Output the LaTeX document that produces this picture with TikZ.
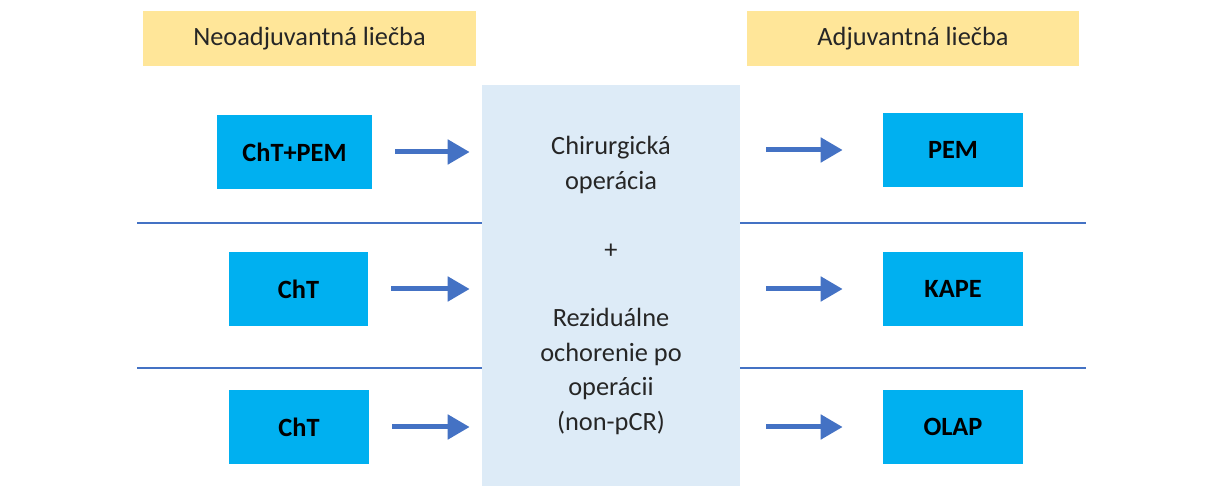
\documentclass[tikz,border=0pt]{standalone}
\usepackage{fontspec}
\setmainfont{Carlito}
\usetikzlibrary{arrows.meta, positioning, calc}
\definecolor{hdryellow}{RGB}{255, 230, 153}
\definecolor{boxcyan}{RGB}{0, 176, 240}
\definecolor{surgblue}{RGB}{221, 235, 247}
\definecolor{arrblue}{RGB}{68, 114, 196}

\begin{document}
\begin{tikzpicture}[x=0.02cm, y=-0.02cm, font=\fontsize{15}{19.6}\selectfont,
    hdr/.style={fill=hdryellow, minimum width=6.66cm, minimum height=1.1cm, text=black!85},
    tbox/.style={fill=boxcyan, minimum height=1.48cm, font=\fontsize{15}{19.6}\selectfont\bfseries},
    arr/.style={-{Triangle[length=0.44cm, width=0.48cm]}, line width=0.1cm, arrblue},
    sep/.style={arrblue, line width=0.6pt}]
      \useasboundingbox (0,0) rectangle (1215,486);
      % headers
      \node[hdr] (neo) at (309.5,38.5) {Neoadjuvantná liečba};
      \node[hdr] (adj) at (913,38.5) {Adjuvantná liečba};
      % row separators
      \foreach \y in {223,368} {
        \draw[sep] (137,\y) -- (482,\y);
        \draw[sep] (740,\y) -- (1086,\y);
      }
      % surgery column
      \node[fill=surgblue, minimum width=5.16cm, minimum height=8.02cm, align=center, text=black!85] (surg) at (611,285.5)
        {Chirurgická\\operácia\\[19.6pt]+\\[19.6pt]Reziduálne\\ochorenie po\\operácii\\(non-pCR)};
      % neoadjuvant boxes
      \node[tbox, minimum width=3.1cm] (chtpem) at (294.5,152) {ChT+PEM};
      \node[tbox, minimum width=2.78cm] (cht1) at (298.5,289) {ChT};
      \node[tbox, minimum width=2.8cm] (cht2) at (299,427) {ChT};
      % adjuvant boxes
      \node[tbox, minimum width=2.8cm] (pem) at (953,150) {PEM};
      \node[tbox, minimum width=2.8cm] (kape) at (953,289) {KAPE};
      \node[tbox, minimum width=2.8cm] (olap) at (953,427) {OLAP};
      % arrows
      \foreach \a in {chtpem,cht1,cht2}
        \draw[arr, shorten <=0.46cm, shorten >=0.24cm] (\a.east) -- (\a.east -| surg.west);
      \foreach \b in {pem,kape,olap}
        \draw[arr, shorten <=0.52cm, shorten >=0.8cm] (\b.west -| surg.east) -- (\b.west);
\end{tikzpicture}
\end{document}
